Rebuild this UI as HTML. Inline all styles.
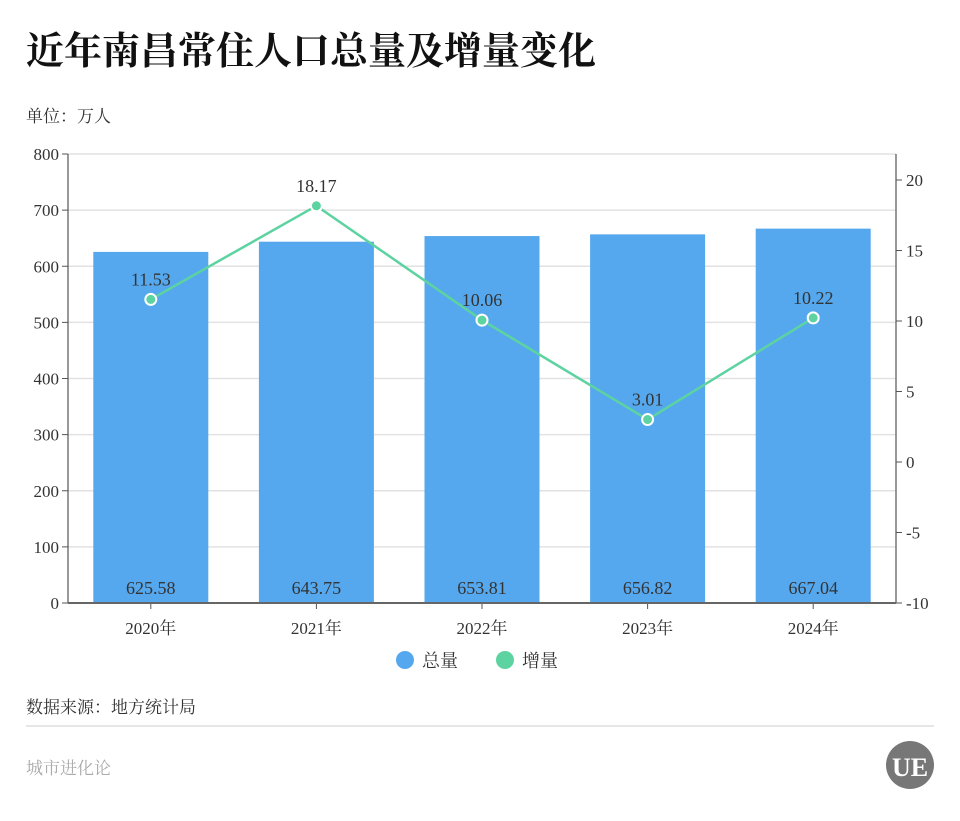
<!DOCTYPE html>
<html><head><meta charset="utf-8">
<style>
html,body{margin:0;padding:0;background:#fff;}
body{width:960px;height:816px;overflow:hidden;font-family:"Liberation Serif","Noto Serif CJK SC",serif;}
svg text{font-family:"Liberation Serif","Noto Serif CJK SC",serif;}
</style></head>
<body>
<svg id="chart" width="960" height="816" viewBox="0 0 960 816" xmlns="http://www.w3.org/2000/svg">
  <text x="26" y="64" font-size="38" font-weight="bold" fill="#111">近年南昌常住人口总量及增量变化</text>
  <text x="26" y="122" font-size="17" fill="#333">单位：万人</text>
  <g id="grid"></g>
  <g id="bars"></g>
  <g id="line"></g>
  <g id="axes"></g>
  <g>
    <g>
      <circle cx="405" cy="660" r="9" fill="#56a8ee"/>
      <text x="422" y="667" font-size="18" fill="#333">总量</text>
    </g>
    <g>
      <circle cx="505" cy="660" r="9" fill="#5cd3a0"/>
      <text x="522" y="667" font-size="18" fill="#333">增量</text>
    </g>
  </g>
  <text x="26" y="713" font-size="17" fill="#333">数据来源：地方统计局</text>
  <line x1="26" y1="726" x2="934" y2="726" stroke="#ddd" stroke-width="1.5"/>
  <text x="26" y="774" font-size="17" fill="#aaa">城市进化论</text>
  <g>
    <circle cx="910" cy="765" r="24" fill="#777"/>
    <text x="910" y="776" font-size="26" font-weight="bold" fill="#fff" text-anchor="middle">UE</text>
  </g>
</svg>
<script>
const categories = ["2020年","2021年","2022年","2023年","2024年"];
const totals = [625.58, 643.75, 653.81, 656.82, 667.04];
const increments = [11.53, 18.17, 10.06, 3.01, 10.22];
const leftTicks = [0,100,200,300,400,500,600,700,800];
const rightTicks = [-10,-5,0,5,10,15,20];

const NS = "http://www.w3.org/2000/svg";
const plotL = 68, plotR = 896, yBottom = 603, yTop = 154;
const yL = v => yBottom - (v/800)*(yBottom-yTop);
const yR = v => yBottom - ((v+10)/30)*423;
const band = (plotR-plotL)/categories.length;
const xC = i => plotL + band*(i+0.5);
const barW = 115;

function mk(tag, attrs, parent, txt){
  const e = document.createElementNS(NS, tag);
  for (const k in attrs) e.setAttribute(k, attrs[k]);
  if (txt !== undefined) e.textContent = txt;
  parent.appendChild(e);
  return e;
}
const grid = document.getElementById('grid');
const bars = document.getElementById('bars');
const line = document.getElementById('line');
const axes = document.getElementById('axes');

leftTicks.forEach(t => {
  const y = yL(t);
  if (t > 0) {
    const g = mk('line', {x1:plotL, x2:plotR, y1:y, y2:y, stroke:'#e2e2e2', 'stroke-width':1.5}, grid);
    
    
  }
  mk('line', {x1:plotL-6, x2:plotL, y1:y, y2:y, stroke:'#555', 'stroke-width':1}, axes);
  const lb = mk('text', {x:plotL-9, y:y+6, 'font-size':17, fill:'#333', 'text-anchor':'end'}, axes, String(t));
  
  
});
rightTicks.forEach(t => {
  const y = yR(t);
  mk('line', {x1:plotR, x2:plotR+6, y1:y, y2:y, stroke:'#555', 'stroke-width':1}, axes);
  const lb = mk('text', {x:plotR+10, y:y+6, 'font-size':17, fill:'#333'}, axes, String(t));
  
  
});
mk('line', {x1:plotL, x2:plotL, y1:yTop, y2:yBottom, stroke:'#555', 'stroke-width':1.2}, axes);
mk('line', {x1:plotR, x2:plotR, y1:yTop, y2:yBottom, stroke:'#555', 'stroke-width':1.2}, axes);

categories.forEach((c, i) => {
  const x = xC(i);
  const r = mk('rect', {x:x-barW/2, y:yL(totals[i]), width:barW, height:yBottom-yL(totals[i]), fill:'#56a8ee'}, bars);
  
  
  const v = mk('text', {x:x, y:yBottom-9, 'font-size':18, fill:'#333', 'text-anchor':'middle'}, bars, totals[i].toFixed(2));
  
  
  mk('line', {x1:x, x2:x, y1:yBottom, y2:yBottom+6, stroke:'#555', 'stroke-width':1}, axes);
  const cl = mk('text', {x:x, y:634, 'font-size':17, fill:'#333', 'text-anchor':'middle'}, axes, c);
  
  
});
const base = mk('line', {x1:plotL, x2:plotR, y1:yBottom, y2:yBottom, stroke:'#666', 'stroke-width':2}, axes);



const pts = increments.map((v, i) => xC(i) + ',' + yR(v)).join(' ');
const pl = mk('polyline', {points:pts, fill:'none', stroke:'#5cd3a0', 'stroke-width':2.5}, line);


increments.forEach((v, i) => {
  const p = mk('circle', {cx:xC(i), cy:yR(v), r:5.5, fill:'#5cd3a0', stroke:'#fff', 'stroke-width':2}, line);
  
  
  const t = mk('text', {x:xC(i), y:yR(v)-14, 'font-size':18, fill:'#333', 'text-anchor':'middle'}, line, v.toFixed(2));
  
  
});
</script>
</body></html>
